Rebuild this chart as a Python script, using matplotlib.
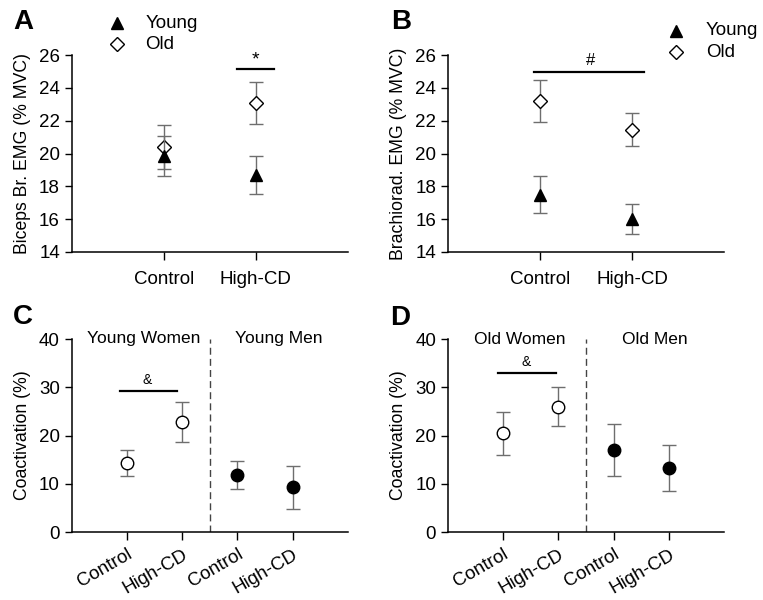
import numpy as np
import matplotlib.pyplot as plt

plt.rcParams['font.family'] = ['Liberation Sans', 'DejaVu Sans']

# Panel A / B: EMG (% MVC)
conditions = ['Control', 'High-CD']
a_young = [19.85, 18.7]
a_young_err = [1.2, 1.18]
a_old = [20.4, 23.08]
a_old_err = [1.35, 1.3]

b_young = [17.5, 16.0]
b_young_err = [1.15, 0.9]
b_old = [23.2, 21.45]
b_old_err = [1.3, 1.0]

# Panel C / D: coactivation (%)
coact_ticks = ['Control', 'High-CD', 'Control', 'High-CD']
c_women = [14.3, 22.8]
c_women_err = [2.7, 4.2]
c_men = [11.8, 9.3]
c_men_err = [2.85, 4.5]

d_women = [20.5, 26.0]
d_women_err = [4.45, 4.0]
d_men = [17.0, 13.3]
d_men_err = [5.3, 4.75]

err_kw = dict(ecolor='#6e6e6e', elinewidth=1.0, capsize=5, capthick=1.0, linestyle='none')

fig = plt.figure(figsize=(7.63, 6.0), dpi=100)


def style_axes(ax):
    ax.spines['top'].set_visible(False)
    ax.spines['right'].set_visible(False)
    ax.spines['left'].set_linewidth(1.1)
    ax.spines['bottom'].set_linewidth(1.1)
    ax.tick_params(axis='both', labelsize=13.5, direction='out', length=5, width=1)
    ax.tick_params(axis='x', length=6)


def emg_panel(rect, young, young_err, old, old_err, ylabel):
    ax = fig.add_axes(rect)
    x = np.array([1, 2])
    ax.errorbar(x, old, yerr=old_err, marker='D', ms=6.8, mfc='white', mec='black',
                mew=1.0, zorder=3, **err_kw)
    ax.errorbar(x, young, yerr=young_err, marker='^', ms=9, mfc='black', mec='black',
                zorder=4, **err_kw)
    ax.set_xlim(0, 3)
    ax.set_ylim(14, 26)
    ax.set_yticks([14, 16, 18, 20, 22, 24, 26])
    ax.set_xticks(x)
    ax.set_xticklabels(conditions)
    ax.set_ylabel(ylabel, fontsize=12.7, labelpad=6)
    style_axes(ax)
    ax.tick_params(axis='x', pad=8)
    return ax


def coact_panel(rect, women, women_err, men, men_err, left_title, right_title):
    ax = fig.add_axes(rect)
    ax.errorbar([1, 2], women, yerr=women_err, marker='o', ms=9, mfc='white', mec='black',
                mew=1.0, zorder=3, **err_kw)
    ax.errorbar([3, 4], men, yerr=men_err, marker='o', ms=9, mfc='black', mec='black',
                zorder=3, **err_kw)
    ax.axvline(2.5, color='#444444', lw=1.0, ls=(0, (5, 3)))
    ax.set_xlim(0, 5)
    ax.set_ylim(0, 40)
    ax.set_yticks([0, 10, 20, 30, 40])
    ax.set_xticks([1, 2, 3, 4])
    ax.set_xticklabels(coact_ticks, rotation=30, ha='right', rotation_mode='anchor')
    ax.set_ylabel('Coactivation (%)', fontsize=12.7, labelpad=6)
    ax.text(1.3, 40, left_title, ha='center', va='center', fontsize=12.5)
    ax.text(3.75, 40, right_title, ha='center', va='center', fontsize=12.5)
    style_axes(ax)
    ax.tick_params(axis='x', pad=4)
    return ax


# Panel A
axA = emg_panel([0.094, 0.58, 0.362, 0.328], a_young, a_young_err, a_old, a_old_err,
                'Biceps Br. EMG (% MVC)')
axA.plot([1.8, 2.2], [25.15, 25.15], color='black', lw=1.6)
axA.text(2.0, 25.7, '*', ha='center', va='center', fontsize=14)
axA.plot([0.49], [27.95], marker='^', ms=9, color='black', clip_on=False)
axA.plot([0.49], [26.67], marker='D', ms=6.8, mfc='white', mec='black', clip_on=False)
axA.text(0.8, 27.95, 'Young', va='center', fontsize=13.5)
axA.text(0.8, 26.67, 'Old', va='center', fontsize=13.5)

# Panel B
axB = emg_panel([0.587, 0.58, 0.362, 0.328], b_young, b_young_err, b_old, b_old_err,
                'Brachiorad. EMG (% MVC)')
axB.plot([0.93, 2.13], [25.0, 25.0], color='black', lw=1.6)
axB.text(1.55, 25.7, '#', ha='center', va='center', fontsize=12)
axB.plot([2.48], [27.5], marker='^', ms=9, color='black', clip_on=False)
axB.plot([2.48], [26.18], marker='D', ms=6.8, mfc='white', mec='black', clip_on=False)
axB.text(2.8, 27.5, 'Young', va='center', fontsize=13.5)
axB.text(2.8, 26.18, 'Old', va='center', fontsize=13.5)

# Panel C
axC = coact_panel([0.094, 0.113, 0.362, 0.322], c_women, c_women_err, c_men, c_men_err,
                  'Young Women', 'Young Men')
axC.plot([0.87, 1.9], [29.3, 29.3], color='black', lw=1.6)
axC.text(1.37, 30.0, '&', ha='center', va='bottom', fontsize=10)

# Panel D
axD = coact_panel([0.587, 0.113, 0.362, 0.322], d_women, d_women_err, d_men, d_men_err,
                  'Old Women', 'Old Men')
axD.plot([0.9, 1.95], [33.0, 33.0], color='black', lw=1.6)
axD.text(1.42, 33.7, '&', ha='center', va='bottom', fontsize=10)

# Panel letters
for lbl, (px, py) in zip('ABCD', [(0.017, 0.963), (0.513, 0.963), (0.017, 0.472), (0.511, 0.470)]):
    fig.text(px, py, lbl, fontsize=20, fontweight='bold', ha='left', va='center')

fig.savefig('out.png', dpi=100)
